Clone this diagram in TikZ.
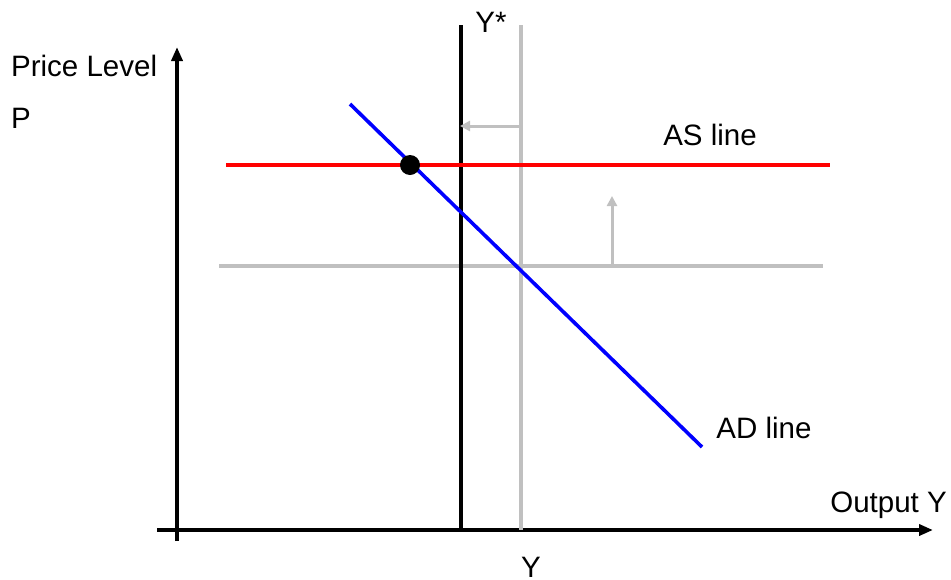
\documentclass[tikz,border=0pt]{standalone}
\usepackage{fontspec}
\setmainfont{Liberation Sans}
\usetikzlibrary{arrows.meta}
\definecolor{lightline}{RGB}{192,192,192}

\begin{document}
\begin{tikzpicture}[x=1pt,y=-1pt,
    every node/.style={font=\fontsize{29.5}{34}\selectfont,inner sep=0pt},
    axis/.style={line width=4.2pt,-{Triangle[length=14pt,width=11pt]}},
    oldline/.style={lightline,line width=4.2pt},
    shiftarrow/.style={lightline,line width=3pt,-{Triangle[length=10pt,width=10pt]}}]

    \useasboundingbox (0,0) rectangle (951,579);

    % Ejes
    \coordinate (ybot) at (177,541);
    \coordinate (ytop) at (177,47);
    \coordinate (xleft) at (157,530);
    \coordinate (xright) at (933,530);
    \draw[axis] (ybot) -- (ytop);
    \draw[axis] (xleft) -- (xright);
    \node[anchor=west] (plabel) at (11,66) {Price Level};
    \node[anchor=west] (pname) at (11,118) {P};
    \node[anchor=east] (xlabel) at (947,505) {Output Y};

    % Old position (gray)
    \coordinate (oldtop) at (521,25);
    \coordinate (oldbot) at (521,530);
    \draw[oldline] (oldtop) -- (oldbot);
    \coordinate (oldleft) at (219,266);
    \coordinate (oldright) at (823,266);
    \draw[oldline] (oldleft) -- (oldright);
    \node (ylabel) at (531,567) {Y};

    % Y* line
    \coordinate (startop) at (461,25);
    \coordinate (starbot) at (461,530);
    \draw[line width=4.2pt] (startop) -- (starbot);
    \node (starlabel) at (491,22) {Y*};

    % Shifts
    \coordinate (leftfrom) at (521,126);
    \coordinate (leftto) at (460,126);
    \draw[shiftarrow] (leftfrom) -- (leftto);
    \coordinate (upfrom) at (612,266);
    \coordinate (upto) at (612,196);
    \draw[shiftarrow] (upfrom) -- (upto);

    % AS line
    \coordinate (asleft) at (226,165);
    \coordinate (asright) at (830,165);
    \draw[red,line width=4.2pt] (asleft) -- (asright);
    \node (aslabel) at (710,135) {AS line};

    % AD line
    \coordinate (adtop) at (350,104);
    \coordinate (adbot) at (702,447);
    \draw[blue,line width=3.6pt] (adtop) -- (adbot);
    \node (adlabel) at (764,428) {AD line};

    % Punto de equilibrio
    \fill (410,165) circle (10pt) coordinate (eq);

\end{tikzpicture}
\end{document}
